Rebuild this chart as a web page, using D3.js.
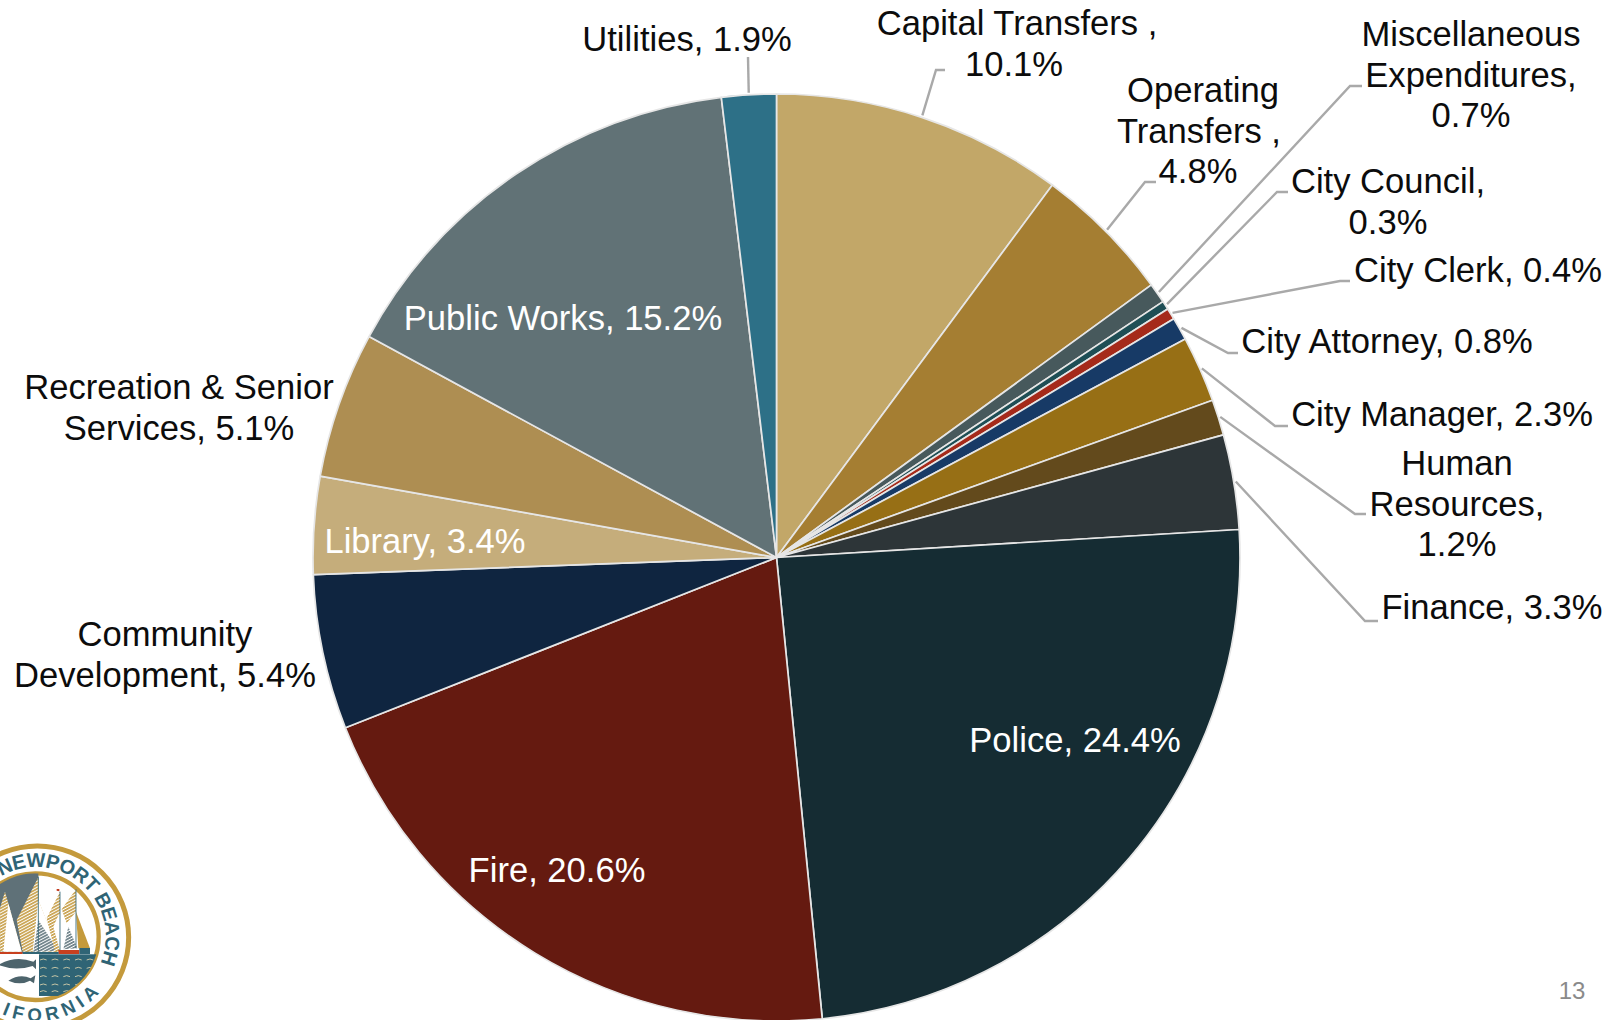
<!DOCTYPE html>
<html><head><meta charset="utf-8">
<script src="https://cdn.jsdelivr.net/npm/d3@7/dist/d3.min.js"></script>
<style>html,body{margin:0;padding:0;background:#fff;overflow:hidden}svg{display:block}text{font-family:"Liberation Sans",Arial,sans-serif}</style>
</head><body><svg id="c" width="1622" height="1020"></svg>
<script>
const categories=["Capital Transfers ","Operating Transfers ","Miscellaneous Expenditures","City Council","City Clerk","City Attorney","City Manager","Human Resources","Finance","Police","Fire","Community Development","Library","Recreation & Senior Services","Public Works","Utilities"];
const values=[10.15,4.85,0.7,0.3,0.4,0.8,2.3,1.25,3.3,24.4,20.6,5.4,3.4,5.1,15.2,1.9];
const colors=["#C2A768","#A57E32","#47595C","#1E4E55","#A52A1A","#173A66","#976F15","#634A1C","#2D3538","#152C33","#651A10","#0F2540","#C5AD7B","#AE8E52","#617276","#2D7087"];
const labelLines=[["Capital Transfers ,","10.1%"],["Operating","Transfers ,","4.8%"],["Miscellaneous","Expenditures,","0.7%"],["City Council,","0.3%"],["City Clerk, 0.4%"],["City Attorney, 0.8%"],["City Manager, 2.3%"],["Human","Resources,","1.2%"],["Finance, 3.3%"],["Police, 24.4%"],["Fire, 20.6%"],["Community","Development, 5.4%"],["Library, 3.4%"],["Recreation & Senior","Services, 5.1%"],["Public Works, 15.2%"],["Utilities, 1.9%"]];
const labelPos=[[1017,35,0],[1201,102,0],[1471,46,0],[1388,193,0],[1478,282,0],[1387,353,0],[1442,426,0],[1457,475,0],[1492,619,0],[1075,752,1],[557,882,1],[165,646,0],[425,553,1],[179,399,0],[563,330,1],[687,51,0]];
const lineDx=[[0,-3],[2,-2,-3]];
const elbows=[[[936,70],[945,70]],[[1145,182],[1156,182]],[[1350,86],[1362,86]],[[1277,192],[1288,192]],[[1340,281],[1350,281]],[[1228,353],[1238,353]],[[1275,426],[1288,426]],[[1355,514],[1366,514]],[[1365,621],[1378,621]],null,null,null,null,null,null,[[748,57]]];
const cx=776.5,cy=557.5,R=463.5,fs=34.6,lh=40.5;
const svg=d3.select("#c");
const data=categories.map((c,i)=>({c,v:values[i],i}));
const pie=d3.pie().sort(null).value(d=>d.v);
const arcs=pie(data);
const arc=d3.arc().innerRadius(0).outerRadius(R);
const edge=d3.arc().innerRadius(R+2).outerRadius(R+2);
const g=svg.append("g").attr("transform",`translate(${cx},${cy})`);
g.selectAll("path").data(arcs).join("path").attr("d",arc).attr("fill",d=>colors[d.data.i]).attr("stroke","#e6e6e6").attr("stroke-width",1.7).attr("stroke-linejoin","round");
const line=d3.line();
svg.append("g").selectAll("path").data(arcs.filter(d=>elbows[d.data.i])).join("path")
 .attr("d",d=>{const p=edge.centroid(d);return line([[p[0]+cx,p[1]+cy],...elbows[d.data.i]]);})
 .attr("fill","none").attr("stroke","#a9a9a9").attr("stroke-width",2.4);
const t=svg.append("g").selectAll("text").data(data).join("text")
 .attr("text-anchor","middle").attr("font-size",fs)
 .attr("fill",d=>labelPos[d.i][2]?"#fff":"#0c0c0c");
t.each(function(d){d3.select(this).selectAll("tspan").data(labelLines[d.i]).join("tspan")
 .attr("x",(s,j)=>labelPos[d.i][0]+((lineDx[d.i]||[])[j]||0)).attr("y",(s,j)=>labelPos[d.i][1]+j*lh).text(s=>s);});
svg.append("text").attr("x",1572).attr("y",999).attr("text-anchor","middle").attr("font-size",24).attr("fill","#8a8a8a").text("13");

// city seal: decoration, drawn in a 3x local space
const gold="#C49A3C",teal="#2F6475",slate="#5F7178";
const defs=svg.append("defs");
const stripes=(id,c)=>{const p=defs.append("pattern").attr("id",id).attr("width",8).attr("height",8).attr("patternUnits","userSpaceOnUse").attr("patternTransform","rotate(-28)");
 p.append("rect").attr("width",8).attr("height",8).attr("fill","#fff");p.append("rect").attr("width",8).attr("height",5).attr("fill",c);};
stripes("tan","#C9A24E");stripes("gry","#6C7F86");
defs.append("clipPath").attr("id","inner").append("circle").attr("cx",106).attr("cy",350).attr("r",190);
const seal=svg.append("g").attr("transform","translate(0,820) scale(0.3333)");
seal.append("circle").attr("cx",112).attr("cy",352).attr("r",274).attr("fill","#fff").attr("stroke",gold).attr("stroke-width",15);
seal.append("circle").attr("cx",106).attr("cy",350).attr("r",190).attr("fill","#fff").attr("stroke",gold).attr("stroke-width",13);
const scene=seal.append("g").attr("clip-path","url(#inner)");
scene.append("path").attr("d","M -100 160 L 115 160 L 115 400 L -100 400 Z").attr("fill",slate);
const shapes=[["M 15 215 L -40 395 L 65 395 L 25 250 Z","url(#tan)"],["M 25 250 L 65 395 L 10 395 Z","#fff"],
["M 115 172 L 50 300 L 68 395 L 175 395 L 115 240 Z","url(#tan)"],["M 115 240 L 175 392 L 98 396 Z","#fff"],["M 115 300 L 175 392 L 100 396 Z","url(#gry)"],
["M 180 215 L 140 295 L 165 395 L 180 395 Z","url(#tan)"],["M 178 280 L 160 320 L 180 392 L 235 388 Z","#fff"],["M 228 208 L 185 268 L 200 310 L 228 275 Z","url(#tan)"],
["M 228 275 L 270 385 L 235 385 Z",gold],["M 205 320 L 232 385 L 190 388 Z","url(#gry)"]];
scene.append("g").selectAll("path").data(shapes).join("path").attr("d",d=>d[0]).attr("fill",d=>d[1]);
scene.append("path").attr("d","M 115 170 V 395 M 180 215 V 395 M 228 208 V 385").attr("stroke",teal).attr("stroke-width",2.5);
scene.append("path").attr("d","M 170 207 H 178 V 214 L 170 212 Z").attr("fill","#C23A1E");
scene.append("path").attr("d","M -40 396 H 68 V 402 H -40 Z M 175 390 H 238 V 402 H 175 Z").attr("fill","#C8401E");
scene.append("rect").attr("x",238).attr("y",384).attr("width",32).attr("height",18).attr("fill",teal);
scene.append("rect").attr("x",68).attr("y",396).attr("width",108).attr("height",6).attr("fill",teal);
scene.append("rect").attr("x",117).attr("y",403).attr("width",175).attr("height",125).attr("fill",teal);
const rows=[420,445,470,495,515],cols=[130,165,200,235,270];
scene.append("g").selectAll("path").data(d3.cross(rows,cols)).join("path").attr("d",d=>`M ${d[1]-10} ${d[0]} Q ${d[1]} ${d[0]-6} ${d[1]+10} ${d[0]}`).attr("fill","none").attr("stroke","#E3D8B0").attr("stroke-width",2.5);
scene.append("path").attr("d","M -5 435 Q 45 405 100 425 L 108 418 V 448 L 98 438 Q 45 455 -5 435 Z M 25 482 Q 60 460 92 475 L 106 466 L 102 490 L 90 482 Q 60 498 25 482 Z").attr("fill","#4D646C");
const pt=(r,deg)=>{const p=d3.pointRadial(deg*Math.PI/180,r);return [p[0]+108,p[1]+350];};
const arcPath=(r,a,b)=>{const s=pt(r,a),e=pt(r,b);return `M ${s[0]} ${s[1]} A ${r} ${r} 0 0 ${b>a?1:0} ${e[0]} ${e[1]}`;};
defs.append("path").attr("id","sealTop").attr("d",arcPath(209,-30,114));
defs.append("path").attr("id","sealBot").attr("d",arcPath(254,240,130));
seal.append("text").attr("font-size",60).attr("font-weight","bold").attr("fill",teal).append("textPath").attr("href","#sealTop").attr("textLength",520).text("NEWPORT BEACH");
seal.append("text").attr("font-size",56).attr("font-weight","bold").attr("fill",teal).append("textPath").attr("href","#sealBot").attr("textLength",480).text("CALIFORNIA");
</script></body></html>
